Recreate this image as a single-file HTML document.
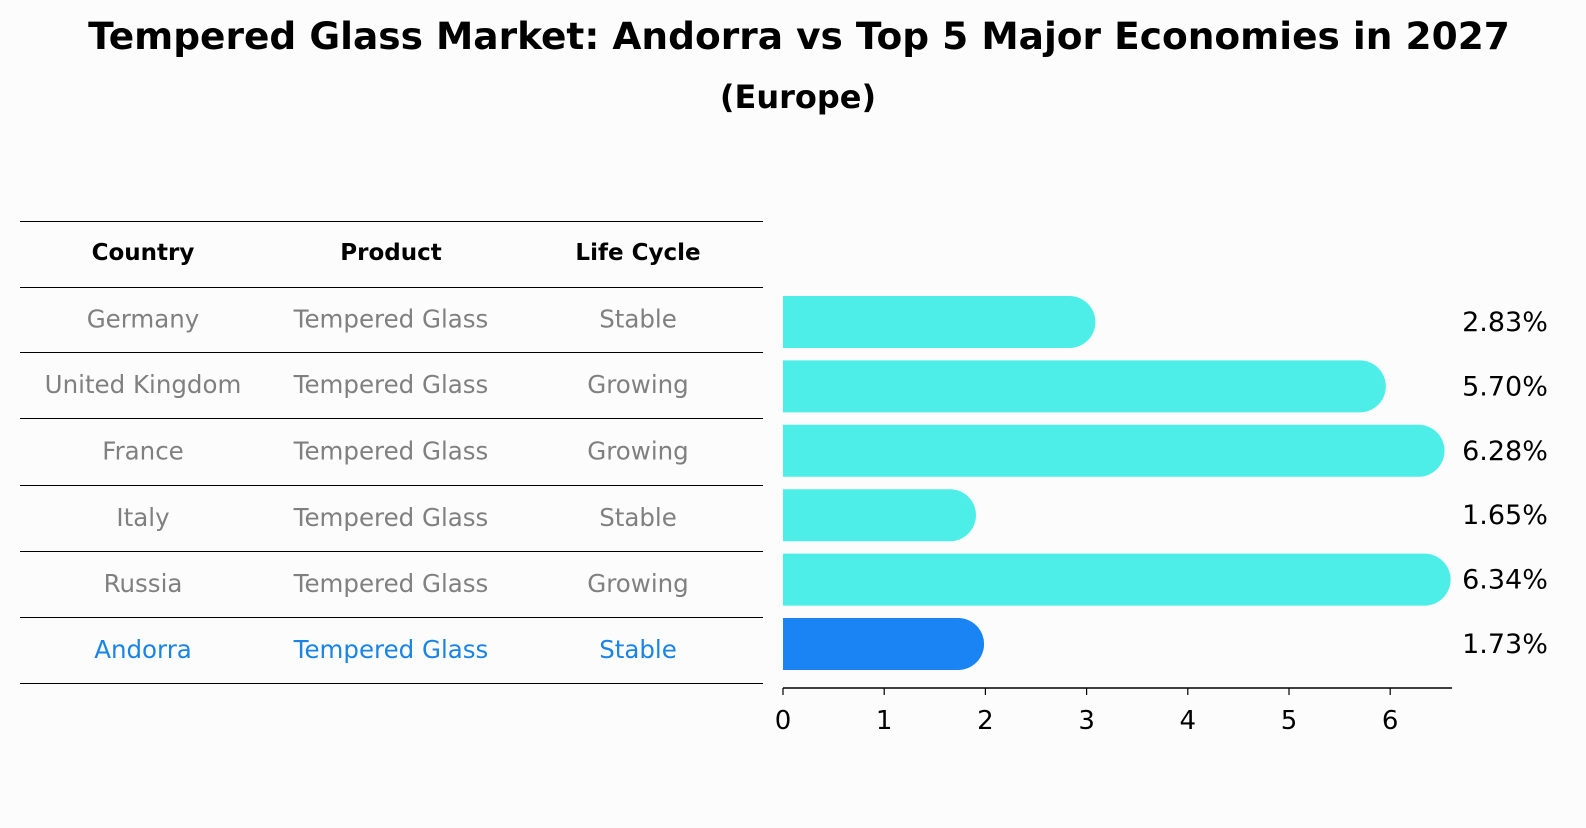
<!DOCTYPE html>
<html><head><meta charset="utf-8"><style>
body{margin:0;background:#fcfcfc;font-family:"Liberation Sans","DejaVu Sans",sans-serif;}
svg text{font-family:"DejaVu Sans","Liberation Sans",sans-serif;}
</style></head><body>
<svg width="1586" height="823" xmlns="http://www.w3.org/2000/svg">
<rect width="1586" height="823" fill="#fcfcfc"/>
<text x="799" y="49" text-anchor="middle" font-size="37.5" font-weight="bold">Tempered Glass Market: Andorra vs Top 5 Major Economies in 2027</text>
<text x="798" y="108" text-anchor="middle" font-size="32" font-weight="bold">(Europe)</text>
<g id="table"></g>
<g id="bars"></g>
</svg>
<script>
const countries=["Germany","United Kingdom","France","Italy","Russia","Andorra"];
const products=["Tempered Glass","Tempered Glass","Tempered Glass","Tempered Glass","Tempered Glass","Tempered Glass"];
const cycles=["Stable","Growing","Growing","Stable","Growing","Stable"];
const values=[2.83,5.70,6.28,1.65,6.34,1.73];
const ticks=[0,1,2,3,4,5,6];
const NS="http://www.w3.org/2000/svg";
function mk(t,a,p){const e=document.createElementNS(NS,t);for(const k in a)e.setAttribute(k,a[k]);p.appendChild(e);return e;}
const tbl=document.getElementById('table');
const lineY=[221,287,352,418,485,551,617,683];
lineY.forEach(y=>{const l=mk('line',{x1:20,x2:763,y1:y+0.5,y2:y+0.5,stroke:'#000','stroke-width':1},tbl);

});
const cx=[143,391,638];
["Country","Product","Life Cycle"].forEach((h,i)=>{const t=mk('text',{x:cx[i],y:260,'text-anchor':'middle','font-size':23,'font-weight':'bold'},tbl);t.textContent=h;

});
countries.forEach((c,r)=>{const y=(lineY[r+1]+lineY[r+2])/2+8;const col=c==="Andorra"?"#1a84e6":"#808080";
[c,products[r],cycles[r]].forEach((v,i)=>{const t=mk('text',{x:cx[i],y:y,'text-anchor':'middle','font-size':24.5,fill:col},tbl);t.textContent=v;

});});
const bg=document.getElementById('bars');
const x0=783,ppu=101.2;
const X=v=>x0+v*ppu;
const Y=i=>322+i*64.4;
const bh=52;
values.forEach((v,i)=>{const col=countries[i]==="Andorra"?"#1a84f4":"#4deee8";const r=bh/2;
const p=mk('path',{d:`M${X(0)},${Y(i)-r} H${X(v)} A${r},${r} 0 0 1 ${X(v)},${Y(i)+r} H${X(0)} Z`,fill:col},bg);


const t=mk('text',{x:1505,y:Y(i)+9,'text-anchor':'middle','font-size':27},bg);t.textContent=v.toFixed(2)+'%';

});
const ax=mk('line',{x1:x0,x2:1452,y1:688,y2:688,stroke:'#000','stroke-width':1.5},bg);


ticks.forEach(tk=>{const l=mk('line',{x1:X(tk),x2:X(tk),y1:688,y2:695,stroke:'#000','stroke-width':1.2},bg);


const t=mk('text',{x:X(tk),y:729,'text-anchor':'middle','font-size':26},bg);t.textContent=tk;

});
</script>
</body></html>
